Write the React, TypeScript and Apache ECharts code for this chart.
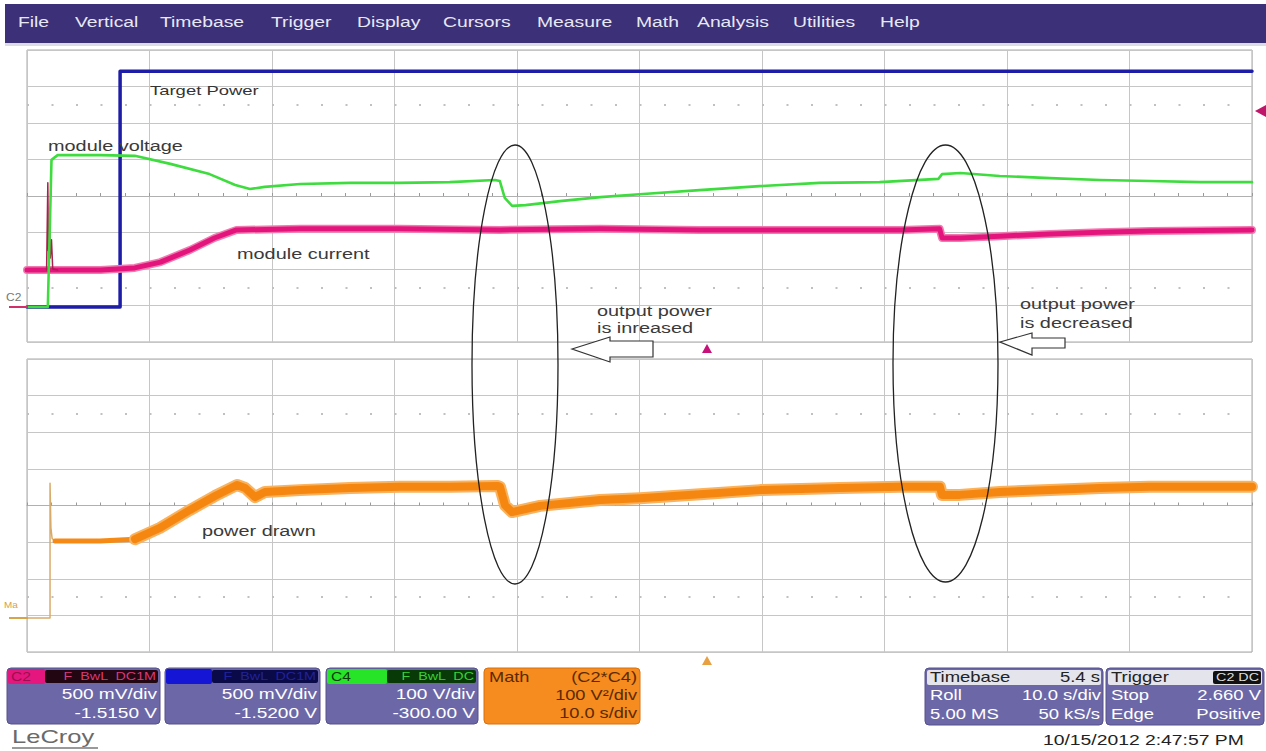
import React, { useEffect, useRef } from 'react';
import * as echarts from 'echarts';

// ---------- data (time in seconds, 10 s/div; amplitude in screen divisions) ----------
const targetPowerT = [0, 7.6, 7.6, 100];
const targetPowerV = [-3.04, -3.04, 3.42, 3.42];

const voltageT = [0, 1.7, 2.0, 2.5, 6.0, 8.8, 11.7, 14.9, 17.0, 18.2, 19.4, 22.3, 26.4, 30.4, 34.5, 38.2, 38.6, 39.0, 39.6, 40.7, 43.5, 46.8, 50.0, 54.9, 59.8, 64.7, 69.6, 74.4, 74.7, 76.2, 79.4, 83.5, 87.6, 91.7, 95.8, 100];
const voltageV = [-3.04, -3.04, 0.99, 1.12, 1.12, 1.10, 0.88, 0.60, 0.30, 0.19, 0.25, 0.33, 0.36, 0.36, 0.38, 0.44, 0.41, -0.05, -0.27, -0.25, -0.14, -0.03, 0.05, 0.16, 0.27, 0.36, 0.38, 0.47, 0.60, 0.63, 0.55, 0.49, 0.44, 0.41, 0.38, 0.38];

const currentT = [0, 2.5, 6.0, 8.8, 10.9, 13.3, 15.3, 17.1, 22.3, 30.4, 38.6, 46.8, 54.9, 63.1, 71.3, 74.5, 74.7, 76.2, 79.4, 83.5, 87.6, 91.7, 100];
const currentV = [-2.03, -2.03, -2.03, -1.97, -1.81, -1.48, -1.15, -0.93, -0.90, -0.90, -0.93, -0.90, -0.93, -0.93, -0.93, -0.90, -1.15, -1.15, -1.10, -1.04, -0.99, -0.96, -0.93];

const currentSpikeT = [1.6, 1.7, 1.75, 1.85, 1.9, 2.0, 2.1, 2.5];
const currentSpikeV = [-2.03, 0.36, -1.5, -0.82, -1.7, -1.2, -2.0, -2.03];

const powerT = [2.29, 5.96, 8.82, 10.86, 13.31, 15.35, 17.14, 17.80, 18.61, 19.43, 22.29, 26.37, 30.45, 34.53, 38.45, 38.61, 39.02, 39.59, 41.88, 46.78, 50.04, 54.94, 59.84, 66.37, 71.27, 74.53, 74.69, 76.16, 79.43, 83.51, 87.59, 91.67, 100];
const powerV = [-0.97, -0.97, -0.92, -0.61, -0.12, 0.26, 0.56, 0.48, 0.23, 0.37, 0.42, 0.48, 0.51, 0.51, 0.53, 0.51, 0.01, -0.18, -0.01, 0.15, 0.20, 0.31, 0.42, 0.48, 0.51, 0.51, 0.29, 0.29, 0.37, 0.42, 0.48, 0.51, 0.51];

const powerSpikeT = [0, 1.88, 1.88, 1.95, 2.05, 2.3];
const powerSpikeV = [-3.07, -3.07, 0.61, -0.6, -0.9, -0.97];

const dottedRows = [2.5, -2.5];

const menuItems = ['File', 'Vertical', 'Timebase', 'Trigger', 'Display', 'Cursors', 'Measure', 'Math', 'Analysis', 'Utilities', 'Help'];
const menuX = [18, 75, 160, 271, 357, 443, 537, 636, 697, 793, 880];

const FONT = '"Liberation Sans", Arial, Helvetica, sans-serif';

const zip = (t: number[], v: number[]) => t.map((x, i) => [x, v[i]]);

function T(x: number, y: number, text: string, o: any = {}) {
  const align = o.align ?? 'left';
  return {
    type: 'text', x, y, z: 100, silent: true, scaleX: o.sx ?? 1.42,
    style: {
      text, fill: o.fill ?? '#3a3a3a', fontSize: o.size ?? 14, fontFamily: FONT,
      fontWeight: o.weight ?? 'normal', textAlign: align, align,
      textVerticalAlign: 'middle', verticalAlign: 'middle',
    },
  };
}
function R(x: number, y: number, w: number, h: number, fill: string, r = 0, stroke?: string) {
  return { type: 'rect', z: 90, silent: true, shape: { x, y, width: w, height: h, r }, style: { fill, stroke: stroke ?? 'none', lineWidth: 1 } };
}

function axesFor(i: number) {
  return {
    x: {
      type: 'value', gridIndex: i, min: 0, max: 100, interval: 10,
      axisLabel: { show: false },
      axisLine: { show: true, onZero: true, lineStyle: { color: '#b0b0b0', width: 1 } },
      axisTick: { show: true, inside: true, length: 3, lineStyle: { color: '#9a9a9a' } },
      minorTick: { show: true, splitNumber: 5, length: 3, lineStyle: { color: '#9a9a9a' } },
      splitLine: { show: true, lineStyle: { color: '#c6c6c6', width: 1 } },
    },
    y: {
      type: 'value', gridIndex: i, min: -4, max: 4, interval: 1,
      axisLabel: { show: false }, axisLine: { show: false }, axisTick: { show: false },
      splitLine: { show: true, lineStyle: { color: '#c6c6c6', width: 1 } },
    },
  };
}

const dotted = {
  silent: true, symbol: ['none', 'none'], label: { show: false },
  lineStyle: { color: '#c0c0c0', type: [2, 22.5], width: 2 },
  data: dottedRows.map((v) => ({ yAxis: v })),
};

function line(name: string, gi: number, data: number[][], color: string, width: number, z: number, extra: any = {}) {
  return {
    name, type: 'line', xAxisIndex: gi, yAxisIndex: gi, data, showSymbol: false, symbol: 'none',
    lineStyle: { color, width, cap: 'round', join: 'round' }, z, silent: true, ...extra,
  };
}

export default function App() {
  const ref = useRef<HTMLDivElement>(null);
  useEffect(() => {
    const chart = echarts.init(ref.current!, null, { renderer: 'svg' });
    const a0 = axesFor(0);
    const a1 = axesFor(1);
    const powerData = zip(powerT, powerV);

    const graphic: any[] = [];
    // menu bar
    graphic.push(R(5, 4, 1261, 39, '#3c3079'));
    graphic.push(R(5, 43, 1261, 3, '#dcdce6'));
    menuItems.forEach((m, i) => graphic.push(T(menuX[i], 22, m, { fill: '#e8e8f2', sx: 1.38 })));

    // annotations
    graphic.push(T(150, 91, 'Target Power', { fill: '#333', size: 13 }));
    graphic.push(T(48, 146, 'module voltage'));
    graphic.push(T(237, 254, 'module current'));
    graphic.push(T(202, 531, 'power drawn'));
    graphic.push(T(597, 311, 'output power'));
    graphic.push(T(597, 328, 'is inreased'));
    graphic.push(T(1020, 304, 'output power'));
    graphic.push(T(1020, 323, 'is decreased'));

    graphic.push({ type: 'ellipse', z: 100, silent: true, shape: { cx: 515, cy: 364.5, rx: 43, ry: 219.5 }, style: { fill: 'none', stroke: '#222', lineWidth: 1.3 } });
    graphic.push({ type: 'ellipse', z: 100, silent: true, shape: { cx: 945.5, cy: 363.5, rx: 52.5, ry: 218.5 }, style: { fill: 'none', stroke: '#222', lineWidth: 1.3 } });
    graphic.push({ type: 'polygon', z: 100, silent: true, shape: { points: [[572, 349], [610, 337], [610, 341], [653, 341], [653, 357], [610, 357], [610, 362]] }, style: { fill: '#fff', stroke: '#333', lineWidth: 1.2 } });
    graphic.push({ type: 'polygon', z: 100, silent: true, shape: { points: [[1000, 342], [1032, 333], [1032, 338], [1065, 338], [1065, 348], [1032, 348], [1032, 355]] }, style: { fill: '#fff', stroke: '#333', lineWidth: 1.2 } });

    // scope markers
    graphic.push({ type: 'polygon', z: 100, silent: true, shape: { points: [[1255, 111], [1266, 105], [1266, 117]] }, style: { fill: '#c0166a' } });
    graphic.push({ type: 'polygon', z: 100, silent: true, shape: { points: [[702, 353], [712, 353], [707, 344]] }, style: { fill: '#c8107a' } });
    graphic.push({ type: 'polygon', z: 100, silent: true, shape: { points: [[702, 665], [712, 665], [707, 656]] }, style: { fill: '#e8a040' } });
    graphic.push(T(6, 297, 'C2', { size: 10, fill: '#777', sx: 1.2 }));
    graphic.push({ type: 'line', z: 100, silent: true, shape: { x1: 9, y1: 307, x2: 28, y2: 307 }, style: { stroke: '#d0306a', lineWidth: 2 } });
    graphic.push(T(4, 605, 'Ma', { size: 9, fill: '#d4a050', sx: 1.1 }));
    graphic.push({ type: 'line', z: 100, silent: true, shape: { x1: 9, y1: 618, x2: 28, y2: 618 }, style: { stroke: '#d6a54a', lineWidth: 2 } });

    // channel boxes
    const BODY = '#6c68a8';
    // C2
    graphic.push(R(7, 668, 153, 56, BODY, 4, '#55518a'));
    graphic.push(R(8, 669, 37, 15, '#e5167e', 2));
    graphic.push(R(45, 670, 113, 13, '#220611', 2));
    graphic.push(T(11, 676.5, 'C2', { size: 12, fill: '#9a1050', sx: 1.3 }));
    graphic.push(T(156, 676.5, 'F  BwL  DC1M', { size: 11, fill: '#d83a7a', sx: 1.3, align: 'right' }));
    graphic.push(T(157, 694, '500 mV/div', { fill: '#fff', sx: 1.36, align: 'right' }));
    graphic.push(T(157, 713, '-1.5150 V', { fill: '#fff', sx: 1.36, align: 'right' }));
    // C1 (blue)
    graphic.push(R(165, 668, 155, 56, BODY, 4, '#55518a'));
    graphic.push(R(166, 669, 46, 15, '#1515d6', 2));
    graphic.push(R(212, 670, 106, 13, '#0a0a48', 2));
    graphic.push(T(316, 676.5, 'F  BwL  DC1M', { size: 11, fill: '#22229a', sx: 1.3, align: 'right' }));
    graphic.push(T(317, 694, '500 mV/div', { fill: '#fff', sx: 1.36, align: 'right' }));
    graphic.push(T(317, 713, '-1.5200 V', { fill: '#fff', sx: 1.36, align: 'right' }));
    // C4
    graphic.push(R(326, 668, 152, 56, BODY, 4, '#55518a'));
    graphic.push(R(327, 669, 60, 15, '#28e428', 2));
    graphic.push(R(387, 670, 89, 13, '#083a08', 2));
    graphic.push(T(331, 676.5, 'C4', { size: 12, fill: '#0b3a0b', sx: 1.3 }));
    graphic.push(T(474, 676.5, 'F  BwL  DC', { size: 11, fill: '#3ad03a', sx: 1.3, align: 'right' }));
    graphic.push(T(475, 694, '100 V/div', { fill: '#fff', sx: 1.36, align: 'right' }));
    graphic.push(T(475, 713, '-300.00 V', { fill: '#fff', sx: 1.36, align: 'right' }));
    // Math
    graphic.push(R(484, 668, 156, 56, '#f68b1f', 4, '#d87010'));
    graphic.push(T(489, 677, 'Math', { fill: '#5a2a00', sx: 1.3 }));
    graphic.push(T(637, 677, '(C2*C4)', { fill: '#5a2a00', sx: 1.3, align: 'right' }));
    graphic.push(T(637, 695, '100 V²/div', { fill: '#5a2a00', sx: 1.3, align: 'right' }));
    graphic.push(T(637, 713, '10.0 s/div', { fill: '#5a2a00', sx: 1.3, align: 'right' }));

    // Timebase box
    graphic.push(R(925, 668, 178, 57, BODY, 4, '#55518a'));
    graphic.push(R(927, 670, 174, 15, '#e4e4ec', 2));
    graphic.push(T(930, 677, 'Timebase', { fill: '#222', sx: 1.32 }));
    graphic.push(T(1100, 677, '5.4 s', { fill: '#222', sx: 1.32, align: 'right' }));
    graphic.push(T(930, 695, 'Roll', { fill: '#fff', sx: 1.32 }));
    graphic.push(T(1101, 695, '10.0 s/div', { fill: '#fff', sx: 1.32, align: 'right' }));
    graphic.push(T(930, 714, '5.00 MS', { fill: '#fff', sx: 1.32 }));
    graphic.push(T(1100, 714, '50 kS/s', { fill: '#fff', sx: 1.32, align: 'right' }));
    // Trigger box
    graphic.push(R(1106, 668, 158, 57, BODY, 4, '#55518a'));
    graphic.push(R(1108, 670, 154, 15, '#e4e4ec', 2));
    graphic.push(R(1213, 671, 48, 13, '#111', 2));
    graphic.push(T(1111, 677, 'Trigger', { fill: '#222', sx: 1.32 }));
    graphic.push(T(1259, 677.5, 'C2 DC', { size: 11, fill: '#ddd', sx: 1.3, align: 'right' }));
    graphic.push(T(1111, 695, 'Stop', { fill: '#fff', sx: 1.32 }));
    graphic.push(T(1261, 695, '2.660 V', { fill: '#fff', sx: 1.32, align: 'right' }));
    graphic.push(T(1111, 714, 'Edge', { fill: '#fff', sx: 1.32 }));
    graphic.push(T(1261, 714, 'Positive', { fill: '#fff', sx: 1.32, align: 'right' }));

    // footer
    graphic.push(T(12, 737, 'LeCroy', { size: 18, fill: '#6a6a6a', sx: 1.42 }));
    graphic.push({ type: 'line', z: 100, silent: true, shape: { x1: 12, y1: 748, x2: 98, y2: 748 }, style: { stroke: '#777', lineWidth: 1.5 } });
    graphic.push(T(1043, 740, '10/15/2012 2:47:57 PM', { fill: '#222', sx: 1.38 }));

    const option: any = {
      animation: false,
      backgroundColor: '#ffffff',
      grid: [
        { left: 27, top: 50, width: 1225, height: 292, show: true, borderColor: '#a8a8a8', borderWidth: 1, backgroundColor: '#fff' },
        { left: 27, top: 359, width: 1225, height: 293, show: true, borderColor: '#a8a8a8', borderWidth: 1, backgroundColor: '#fff' },
      ],
      xAxis: [a0.x, a1.x],
      yAxis: [a0.y, a1.y],
      series: [
        line('Target Power', 0, zip(targetPowerT, targetPowerV), '#1d1da8', 3.5, 3, { markLine: dotted }),
        line('module current halo', 0, zip(currentT, currentV), '#f07ab0', 8, 3),
        line('module current', 0, zip(currentT, currentV), '#e3157c', 5, 4),
        line('current spike', 0, zip(currentSpikeT, currentSpikeV), '#a8204f', 1.5, 5),
        line('module voltage', 0, zip(voltageT, voltageV), '#3fdc3f', 2.6, 6),
        line('power spike', 1, zip(powerSpikeT, powerSpikeV), '#d8ab6a', 1.5, 3, { markLine: dotted }),
        line('power drawn early', 1, powerData.slice(0, 3), '#f58a16', 5, 4),
        line('power drawn halo', 1, powerData.slice(2), '#f9b25e', 12, 4),
        line('power drawn', 1, powerData.slice(2), '#f5860f', 8, 5),
      ],
      graphic: { elements: graphic },
    };
    chart.setOption(option);
    return () => chart.dispose();
  }, []);
  return <div ref={ref} style={{ position: 'absolute', left: 0, top: 0, width: 1266, height: 751, background: '#fff' }} />;
}
